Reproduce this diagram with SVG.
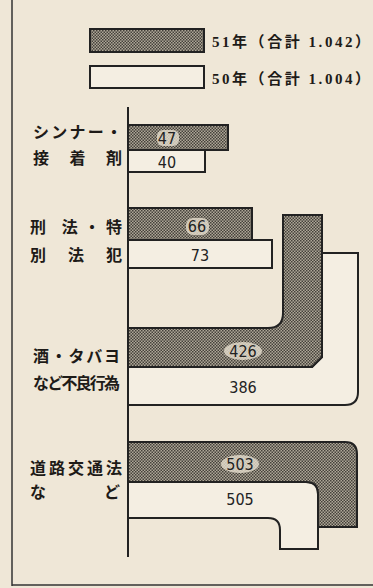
<svg xmlns="http://www.w3.org/2000/svg" width="373" height="588" viewBox="0 0 373 588">
<defs>
<pattern id="dots" width="3" height="3" patternUnits="userSpaceOnUse">
<rect width="3" height="3" fill="#aea797"/>
<rect width="1.5" height="1.5" fill="#45413b"/>
<rect x="1.5" y="1.5" width="1.5" height="1.5" fill="#45413b"/>
</pattern>
<style>
.bg{fill:#efe7d7}
.sh{fill:url(#dots);stroke:#222;stroke-width:2}
.wh{fill:#f4eee2;stroke:#222;stroke-width:2}
.lbl{font-family:"Noto Sans CJK JP","Noto Sans CJK SC",sans-serif;font-weight:bold;font-size:16px;fill:#1e1b18}
.num{font-family:"DejaVu Sans","Liberation Sans",sans-serif;font-stretch:condensed;font-size:16px;fill:#222;text-anchor:middle}
.halo{fill:#e6dece;opacity:0.8}
.leg{font-family:"Liberation Serif","Noto Sans CJK JP",serif;font-weight:bold;font-size:15px;fill:#1e1b18}
.frame{stroke:#333;stroke-width:1.5;fill:none}
</style>
</defs>
<rect class="bg" x="0" y="0" width="373" height="588"/>
<g id="frame">
<line class="frame" x1="12" y1="0" x2="12" y2="586"/>
<line class="frame" x1="12" y1="585" x2="373" y2="585"/>
</g>
<g id="legend">
<rect class="sh" x="90" y="29" width="114" height="23"/>
<text class="leg" x="212" y="47" textLength="158" lengthAdjust="spacing">51年（合計 1.042）</text>
<rect class="wh" x="90" y="66" width="114" height="22"/>
<text class="leg" x="212" y="84" textLength="158" lengthAdjust="spacing">50年（合計 1.004）</text>
</g>
<g id="connectors">
<line x1="128" y1="107" x2="128" y2="557" stroke="#222" stroke-width="2"/>
</g>
<g id="thinner">
<rect class="sh" x="128" y="125" width="100" height="25"/>
<rect class="wh" x="128" y="150" width="77" height="22"/>
<rect class="halo" x="157" y="130" width="22" height="16" rx="6"/>
<text class="num" x="167" y="144">47</text>
<text class="num" x="167" y="168">40</text>
<text class="lbl" x="33" y="138" textLength="89" lengthAdjust="spacing">シンナー・</text>
<text class="lbl" x="33" y="164" textLength="89" lengthAdjust="spacing">接 着 剤</text>
</g>
<g id="keiho">
<rect class="sh" x="128" y="208" width="124" height="32"/>
<rect class="wh" x="128" y="240" width="144" height="28"/>
<rect class="halo" x="186" y="218" width="23" height="17" rx="7"/>
<text class="num" x="197" y="232">66</text>
<text class="num" x="200" y="261">73</text>
<text class="lbl" x="30" y="233" textLength="92" lengthAdjust="spacing">刑 法・特</text>
<text class="lbl" x="30" y="261" textLength="92" lengthAdjust="spacing">別 法 犯</text>
</g>
<g id="sake">
<path class="wh" d="M128,367 L312,367 L322,357 L322,253 L358,253 L358,392 Q358,405 345,405 L128,405 Z"/>
<path class="sh" d="M128,328 L268,328 Q283,328 283,313 L283,215 L322,215 L322,357 L312,367 L128,367 Z"/>
<ellipse class="halo" cx="243" cy="351" rx="19" ry="9"/>
<text class="num" x="243" y="357">426</text>
<text class="num" x="243" y="393">386</text>
<text class="lbl" x="33" y="362" textLength="87" lengthAdjust="spacing">酒・タバヨ</text>
<text class="lbl" x="33" y="389" textLength="87" lengthAdjust="spacing">など不良行為</text>
</g>
<g id="doro">
<path class="wh" d="M128,482 L306,482 Q318,482 318,494 L318,549 L280,549 L280,530 Q280,518 268,518 L128,518 Z"/>
<path class="sh" d="M128,442 L345,442 Q357,442 357,454 L357,527 L318,527 L318,494 Q318,482 306,482 L128,482 Z"/>
<ellipse class="halo" cx="240" cy="464" rx="19" ry="9"/>
<text class="num" x="240" y="470">503</text>
<text class="num" x="240" y="505">505</text>
<text class="lbl" x="30" y="474" textLength="92" lengthAdjust="spacing">道路交通法</text>
<text class="lbl" x="30" y="498" textLength="90" lengthAdjust="spacing">な ど</text>
</g>
</svg>
